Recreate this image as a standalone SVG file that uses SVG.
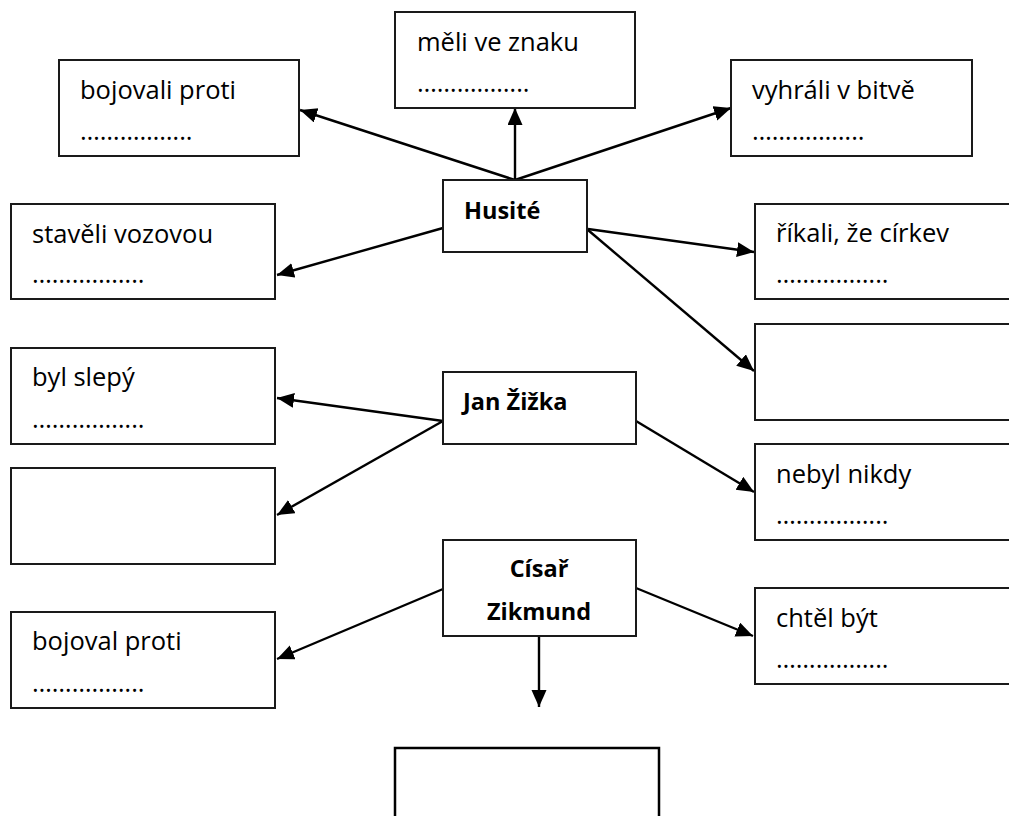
<svg xmlns="http://www.w3.org/2000/svg" width="1009" height="816" viewBox="0 0 1009 816">
<defs>
<marker id="ah" markerUnits="userSpaceOnUse" markerWidth="18" markerHeight="16" refX="17" refY="7.5" orient="auto">
<path d="M0,0 L17,7.5 L0,15 z" fill="#000"/>
</marker>
<style>
.box{fill:#fff;stroke:#1a1a1a;stroke-width:2}
.t{font-family:"Open Sans","Liberation Sans",sans-serif;font-size:25.5px;fill:#000}
.b{font-family:"Open Sans","Liberation Sans",sans-serif;font-size:23.5px;font-weight:bold;fill:#000}
.c{fill:none;stroke:#000;stroke-width:2.4;marker-end:url(#ah)}
</style>
</defs>
<rect width="1009" height="816" fill="#fff"/>
<g id="connectors">
<line class="c" x1="515" y1="180" x2="515" y2="108"/>
<line class="c" x1="515" y1="180" x2="300" y2="110"/>
<line class="c" x1="515" y1="180" x2="731" y2="108"/>
<line class="c" x1="443" y1="228" x2="277" y2="275"/>
<line class="c" x1="588" y1="229" x2="754" y2="252"/>
<line class="c" x1="588" y1="230" x2="754" y2="371"/>
<line class="c" x1="443" y1="421" x2="277" y2="398"/>
<line class="c" x1="443" y1="421" x2="277" y2="515"/>
<line class="c" x1="636" y1="421" x2="754" y2="492"/>
<line class="c" x1="443" y1="589" x2="277" y2="659"/>
<line class="c" x1="636" y1="588" x2="753" y2="636"/>
<line class="c" x1="539" y1="636" x2="539" y2="707"/>
</g>
<g id="husite"><rect class="box" x="443" y="180" width="144" height="72"/><text class="b" x="464" y="219">Husité</text></g>
<g id="bojovali"><rect class="box" x="59" y="60" width="240" height="96"/><text class="t" x="80" y="99">bojovali proti</text><text class="t" x="80" y="140">……………..</text></g>
<g id="meli"><rect class="box" x="395" y="12" width="240" height="96"/><text class="t" x="417" y="51">měli ve znaku</text><text class="t" x="417" y="92">……………..</text></g>
<g id="vyhrali"><rect class="box" x="731" y="60" width="241" height="96"/><text class="t" x="752" y="99">vyhráli v bitvě</text><text class="t" x="752" y="140">……………..</text></g>
<g id="staveli"><rect class="box" x="11" y="204" width="264" height="95"/><text class="t" x="32" y="243">stavěli vozovou</text><text class="t" x="32" y="283">……………..</text></g>
<g id="rikali"><rect class="box" x="755" y="204" width="270" height="95"/><text class="t" x="776" y="242">říkali, že církev</text><text class="t" x="776" y="283">……………..</text></g>
<g id="empty-right"><rect class="box" x="755" y="324" width="270" height="96"/></g>
<g id="zizka"><rect class="box" x="443" y="372" width="193" height="72"/><text class="b" x="463" y="410">Jan Žižka</text></g>
<g id="slepy"><rect class="box" x="11" y="348" width="264" height="96"/><text class="t" x="32" y="386">byl slepý</text><text class="t" x="32" y="428">……………..</text></g>
<g id="empty-left"><rect class="box" x="11" y="468" width="264" height="96"/></g>
<g id="nebyl"><rect class="box" x="755" y="444" width="270" height="96"/><text class="t" x="776" y="483">nebyl nikdy</text><text class="t" x="776" y="524">……………..</text></g>
<g id="cisar"><rect class="box" x="443" y="540" width="193" height="96"/><text class="b" x="539" y="577" text-anchor="middle">Císař</text><text class="b" x="539" y="620" text-anchor="middle">Zikmund</text></g>
<g id="bojoval"><rect class="box" x="11" y="612" width="264" height="96"/><text class="t" x="32" y="650">bojoval proti</text><text class="t" x="32" y="692">……………..</text></g>
<g id="chtel"><rect class="box" x="755" y="588" width="270" height="96"/><text class="t" x="776" y="627">chtěl být</text><text class="t" x="776" y="668">……………..</text></g>
<g id="empty-bottom"><rect x="395" y="748" width="264" height="80" fill="#fff" stroke="#000" stroke-width="2.5"/></g>
</svg>
